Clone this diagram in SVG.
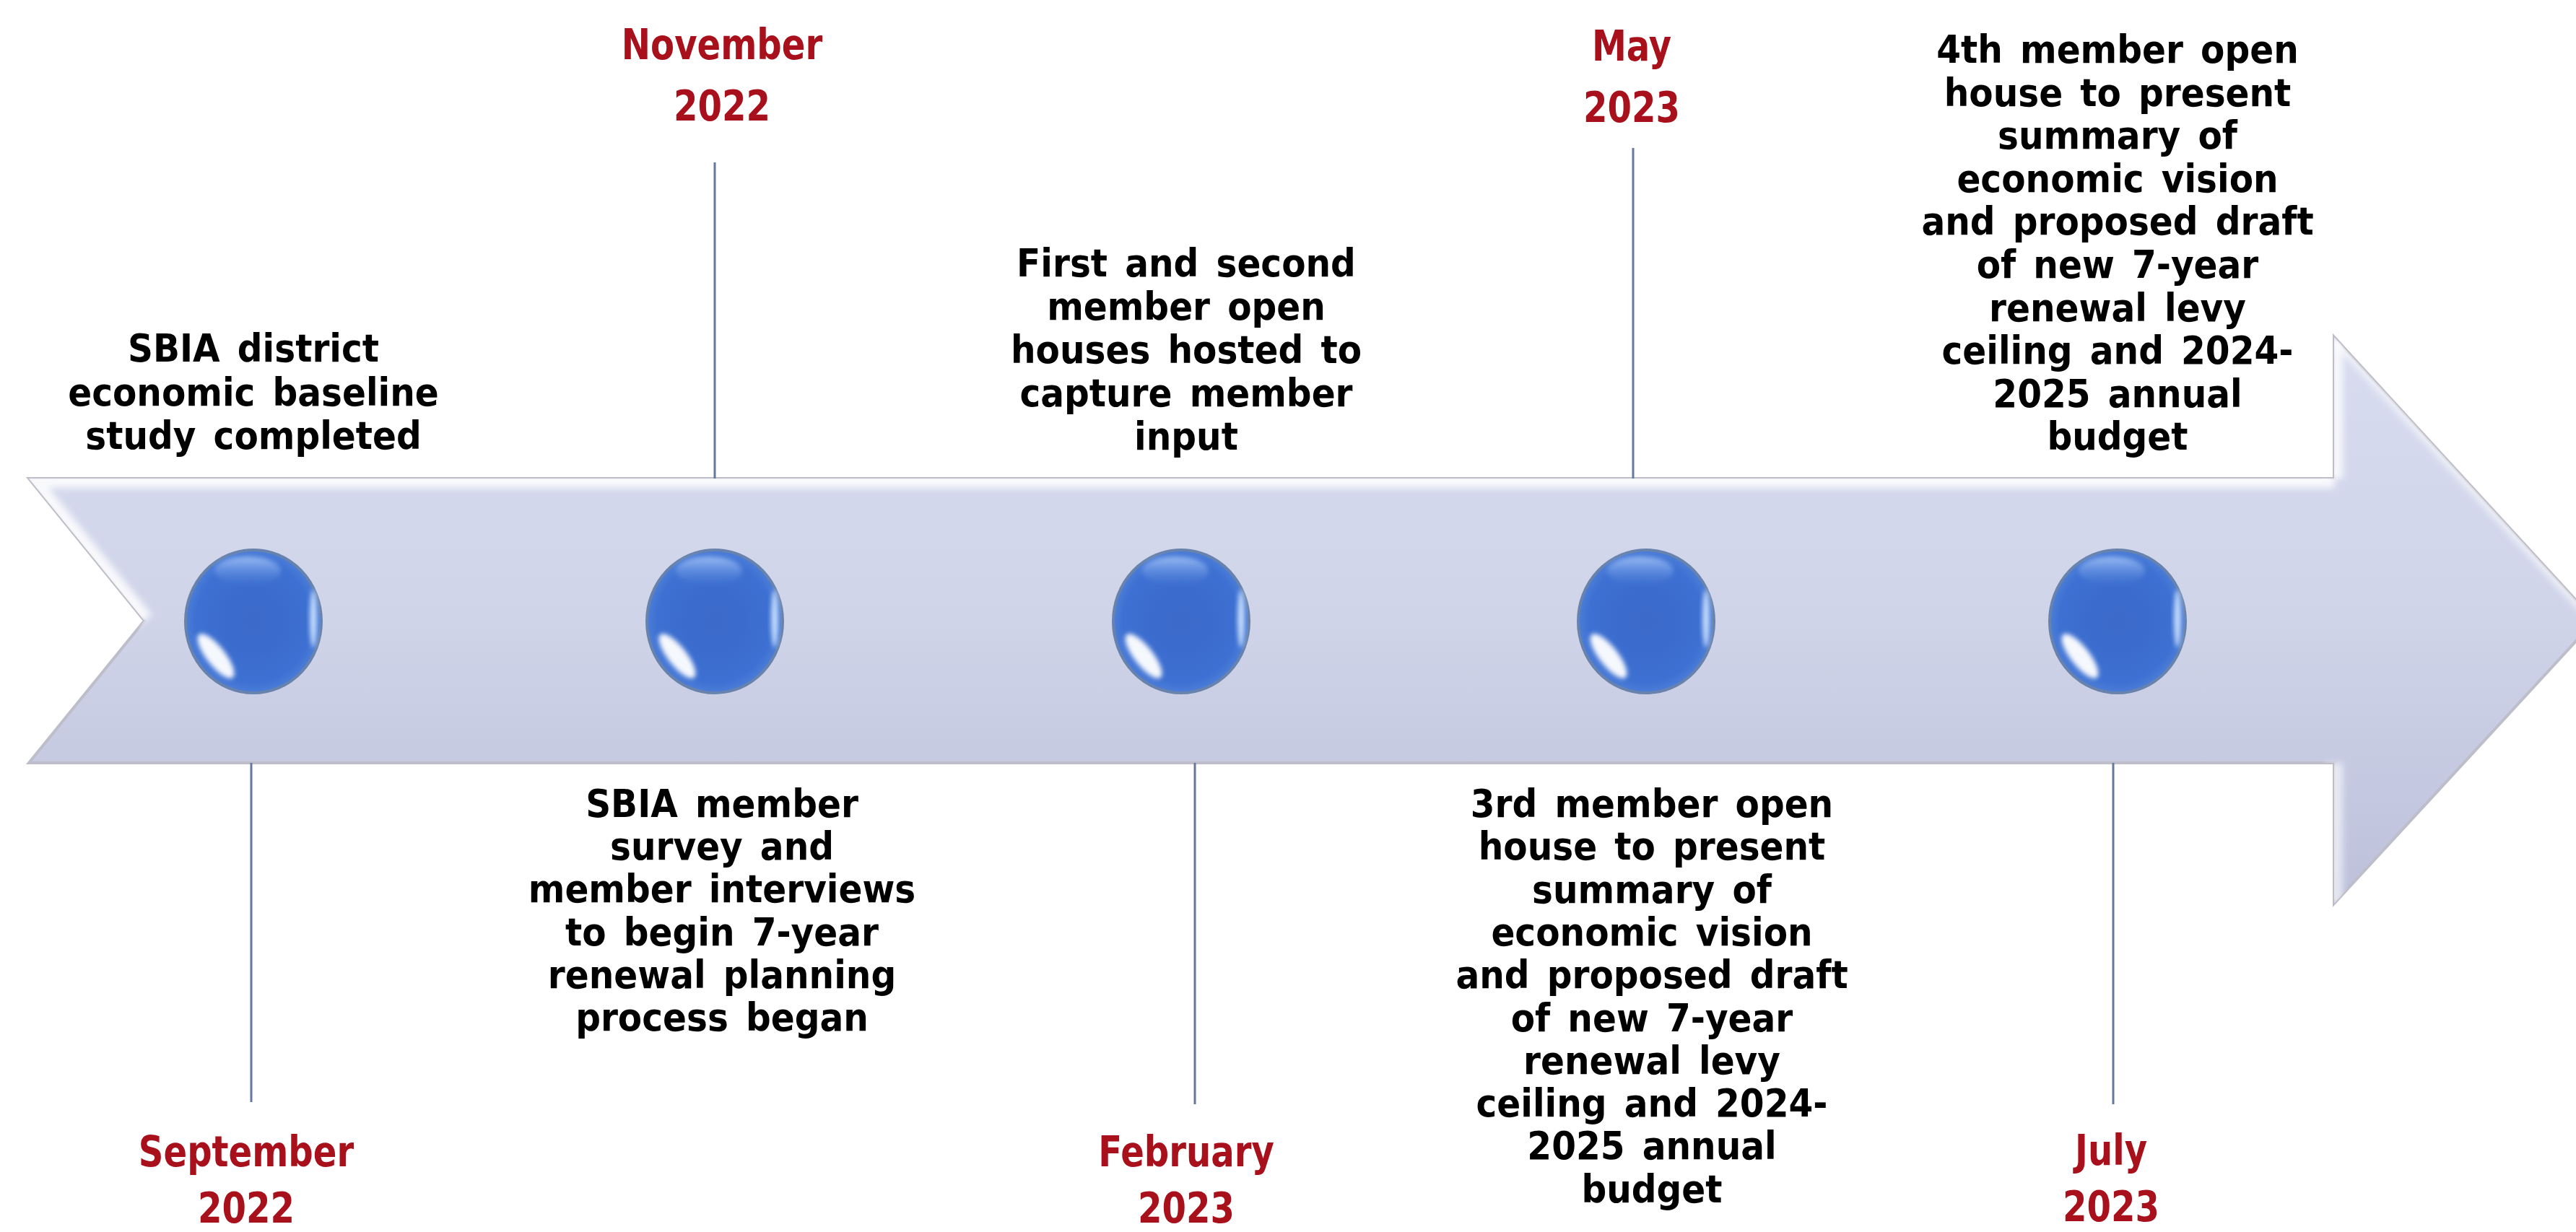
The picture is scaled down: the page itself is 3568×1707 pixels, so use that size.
<svg xmlns="http://www.w3.org/2000/svg" width="3568" height="1707" viewBox="0 0 3568 1707">
<style>
.t{font-family:"DejaVu Sans",Verdana,sans-serif;font-weight:bold;font-size:54px;fill:#000;text-anchor:middle;word-spacing:8px}
.d{font-family:"DejaVu Sans",Verdana,sans-serif;font-weight:bold;font-size:58px;fill:#A8101C;text-anchor:middle}
.ln{stroke:#64799C;stroke-width:3;fill:none}
</style>
<defs>
<linearGradient id="arrowFill" x1="0" y1="467" x2="0" y2="1252" gradientUnits="userSpaceOnUse">
<stop offset="0" stop-color="#D8DCEF"/>
<stop offset="0.5" stop-color="#D0D4E9"/>
<stop offset="1" stop-color="#BCC0DA"/>
</linearGradient>
<clipPath id="arrowClip"><polygon points="40,663 3233,663 3233,467 3594,860 3233,1252 3233,1057 40,1057 200,860"/></clipPath>
<radialGradient id="ballFill" cx="0.5" cy="0.5" r="0.5">
<stop offset="0" stop-color="#3A69C9"/>
<stop offset="0.85" stop-color="#3D70D2"/>
<stop offset="1" stop-color="#4C7DD8"/>
</radialGradient>
<linearGradient id="topHi" x1="0" y1="0" x2="0" y2="1">
<stop offset="0" stop-color="#9CBDF4"/>
<stop offset="1" stop-color="#5F8FE0" stop-opacity="0"/>
</linearGradient>
<filter id="soft" x="-50%" y="-50%" width="200%" height="200%"><feGaussianBlur stdDeviation="3"/></filter>
<filter id="soft2" x="-50%" y="-50%" width="200%" height="200%"><feGaussianBlur stdDeviation="5"/></filter>
<g id="ball">
<ellipse rx="94" ry="99" fill="url(#ballFill)" stroke="#6783AD" stroke-width="4"/>
<ellipse cx="-8" cy="-70" rx="46" ry="20" fill="url(#topHi)" filter="url(#soft)"/>
<ellipse cx="-52" cy="48" rx="13" ry="38" transform="rotate(-38 -52 48)" fill="#FFFFFF" fill-opacity="0.95" filter="url(#soft)"/>
<ellipse cx="83" cy="-4" rx="5" ry="40" fill="#C2DAFB" filter="url(#soft)"/>
</g>
</defs>
<rect width="3568" height="1707" fill="#FFFFFF"/>
<g id="timeline-arrow">
<polygon points="40,663 3233,663 3233,467 3594,860 3233,1252 3233,1057 40,1057 200,860" fill="url(#arrowFill)" stroke="#BDBEC9" stroke-width="4"/>
<g clip-path="url(#arrowClip)" filter="url(#soft2)">
<polyline points="200,860 40,663 3233,663" fill="none" stroke="#FFFFFF" stroke-opacity="0.85" stroke-width="26"/>
<line x1="3233" y1="663" x2="3233" y2="467" stroke="#FFFFFF" stroke-opacity="0.8" stroke-width="24"/>
<line x1="3233" y1="1057" x2="3233" y2="1252" stroke="#FFFFFF" stroke-opacity="0.6" stroke-width="24"/>
<line x1="3233" y1="467" x2="3594" y2="860" stroke="#FFFFFF" stroke-opacity="0.6" stroke-width="14"/>
</g>
</g>
<g id="connectors">
<line class="ln" x1="348" y1="1057" x2="348" y2="1527"/>
<line class="ln" x1="990" y1="225" x2="990" y2="663"/>
<line class="ln" x1="1655" y1="1057" x2="1655" y2="1530"/>
<line class="ln" x1="2262" y1="205" x2="2262" y2="663"/>
<line class="ln" x1="2927" y1="1057" x2="2927" y2="1530"/>
</g>
<g id="event-sep-2022">
<use href="#ball" x="351" y="861"/>
<g transform="translate(351,0) scale(0.9,1)">
<text class="t" x="0" y="501">SBIA district</text>
<text class="t" x="0" y="562">economic baseline</text>
<text class="t" x="0" y="622">study completed</text>
</g>
<g transform="translate(341,0) scale(0.83,1)">
<text class="d" x="0" y="1616">September</text>
<text class="d" x="0" y="1694">2022</text>
</g>
</g>
<g id="event-nov-2022">
<use href="#ball" x="990" y="861"/>
<g transform="translate(1000,0) scale(0.9,1)">
<text class="t" x="0" y="1132">SBIA member</text>
<text class="t" x="0" y="1191">survey and</text>
<text class="t" x="0" y="1250">member interviews</text>
<text class="t" x="0" y="1310">to begin 7-year</text>
<text class="t" x="0" y="1369">renewal planning</text>
<text class="t" x="0" y="1428">process began</text>
</g>
<g transform="translate(1000,0) scale(0.83,1)">
<text class="d" x="0" y="82">November</text>
<text class="d" x="0" y="167">2022</text>
</g>
</g>
<g id="event-feb-2023">
<use href="#ball" x="1636" y="861"/>
<g transform="translate(1643,0) scale(0.9,1)">
<text class="t" x="0" y="383">First and second</text>
<text class="t" x="0" y="443">member open</text>
<text class="t" x="0" y="503">houses hosted to</text>
<text class="t" x="0" y="563">capture member</text>
<text class="t" x="0" y="623">input</text>
</g>
<g transform="translate(1643,0) scale(0.83,1)">
<text class="d" x="0" y="1616">February</text>
<text class="d" x="0" y="1694">2023</text>
</g>
</g>
<g id="event-may-2023">
<use href="#ball" x="2280" y="861"/>
<g transform="translate(2288,0) scale(0.9,1)">
<text class="t" x="0" y="1132">3rd member open</text>
<text class="t" x="0" y="1191">house to present</text>
<text class="t" x="0" y="1251">summary of</text>
<text class="t" x="0" y="1310">economic vision</text>
<text class="t" x="0" y="1369">and proposed draft</text>
<text class="t" x="0" y="1429">of new 7-year</text>
<text class="t" x="0" y="1488">renewal levy</text>
<text class="t" x="0" y="1547">ceiling and 2024-</text>
<text class="t" x="0" y="1606">2025 annual</text>
<text class="t" x="0" y="1666">budget</text>
</g>
<g transform="translate(2260,0) scale(0.83,1)">
<text class="d" x="0" y="84">May</text>
<text class="d" x="0" y="169">2023</text>
</g>
</g>
<g id="event-jul-2023">
<use href="#ball" x="2933" y="861"/>
<g transform="translate(2933,0) scale(0.9,1)">
<text class="t" x="0" y="87">4th member open</text>
<text class="t" x="0" y="147">house to present</text>
<text class="t" x="0" y="206">summary of</text>
<text class="t" x="0" y="266">economic vision</text>
<text class="t" x="0" y="325">and proposed draft</text>
<text class="t" x="0" y="385">of new 7-year</text>
<text class="t" x="0" y="445">renewal levy</text>
<text class="t" x="0" y="504">ceiling and 2024-</text>
<text class="t" x="0" y="564">2025 annual</text>
<text class="t" x="0" y="623">budget</text>
</g>
<g transform="translate(2924,0) scale(0.83,1)">
<text class="d" x="0" y="1614">July</text>
<text class="d" x="0" y="1692">2023</text>
</g>
</g>
</svg>
